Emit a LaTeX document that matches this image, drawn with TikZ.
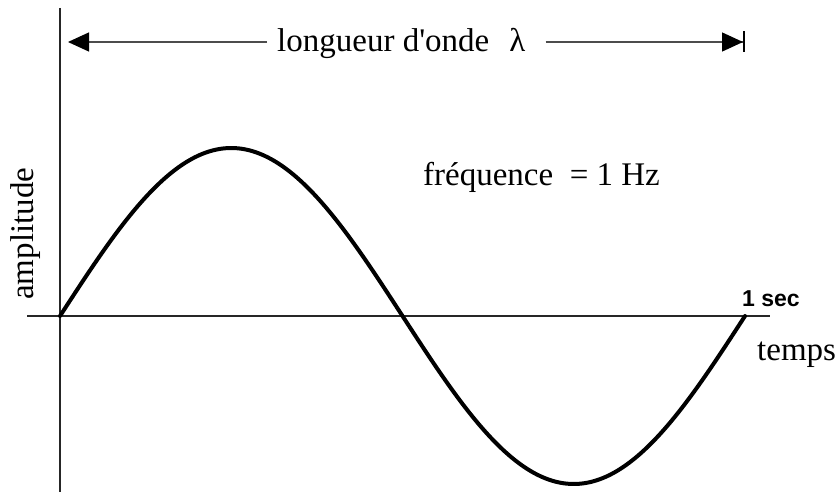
\documentclass[tikz,border=0pt]{standalone}
\usepackage{fontspec}
\setmainfont{Liberation Serif}
\newfontfamily\secfont{Liberation Sans}
\usetikzlibrary{arrows.meta}
\begin{document}
\begin{tikzpicture}[x=1pt,y=-1pt,
  lbl/.style={inner sep=0pt,font=\fontsize{33}{36}\selectfont},
  axisline/.style={line width=1.8pt,black!85},
  dimline/.style={line width=1.3pt,black!70},
  wave/.style={line width=4pt,black}]
\useasboundingbox (0,0) rectangle (838,495);
% axes
\coordinate (ytop) at (60,8);
\coordinate (ybot) at (60,492);
\coordinate (xl) at (27,316);
\coordinate (xr) at (770,316);
\draw[axisline] (ytop) -- (ybot);
\draw[axisline] (xl) -- (xr);
% wave
\draw[wave,line cap=round] plot[domain=0:360,samples=120,smooth] ({60+1.90278*\x},{316-168*sin(\x)});
% wavelength arrow
\node[lbl,anchor=base west] (lab) at (277,52) {longueur d\textquotesingle onde\hspace{20pt}λ};
\coordinate (ltip) at (68,42);
\coordinate (rtip) at (745,42);
\draw[dimline,-{Triangle[length=21pt,width=19pt,color=black]}] ([xshift=-10pt]lab.west |- ltip) -- (ltip);
\draw[dimline,-{Triangle[length=21pt,width=19pt,color=black]Bar[width=21pt,line width=2pt,color=black]}] ([xshift=20pt]lab.east |- rtip) -- (rtip);
% labels
\node[lbl,anchor=base west] (freq) at (423,185) {fréquence\ \ = 1 Hz};
\node[lbl,anchor=base west,rotate=90] (amp) at (34,300) {amplitude};
\node[lbl,anchor=base west] (temps) at (757,360) {temps};
\node[inner sep=0pt,anchor=base west,font=\secfont\bfseries\fontsize{23}{26}\selectfont] (sec) at (742,306) {1 sec};
\end{tikzpicture}
\end{document}
